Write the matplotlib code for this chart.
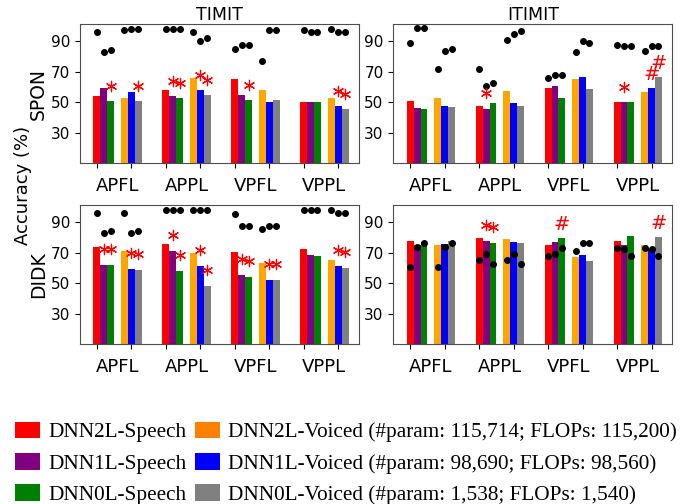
import matplotlib
matplotlib.use("Agg")
import matplotlib.pyplot as plt
from matplotlib.patches import Patch
import numpy as np

groups = ["APFL", "APPL", "VPFL", "VPPL"]
bar_colors = ["red", "purple", "green", "orange", "blue", "gray"]
legend_colors = ["red", "purple", "green", "#ff8000", "blue", "gray"]
legend_labels = [
    "DNN2L-Speech", "DNN1L-Speech", "DNN0L-Speech",
    "DNN2L-Voiced (#param: 115,714; FLOPs: 115,200)",
    "DNN1L-Voiced (#param: 98,690; FLOPs: 98,560)",
    "DNN0L-Voiced (#param: 1,538; FLOPs: 1,540)",
]

# bars: one row per group, order = red, purple, green, orange, blue, gray
timit_spon = [[53.8, 59.0, 50.5, 52.4, 56.4, 50.5],
              [57.7, 53.8, 52.4, 65.5, 57.7, 54.4],
              [64.9, 54.4, 51.1, 57.7, 49.8, 51.1],
              [50.0, 50.0, 50.0, 52.4, 47.2, 45.2]]
timit_spon_dots = [[96.1, 83.0, 84.1, 97.0, 98.1, 98.1],
                   [98.1, 98.1, 98.1, 96.1, 90.0, 92.0],
                   [85.0, 87.2, 87.2, 77.1, 97.0, 97.0],
                   [97.0, 96.1, 96.1, 98.1, 96.1, 96.1]]
timit_spon_star = [(0, 2), (0, 5), (1, 1), (1, 2), (1, 4), (1, 5), (2, 2), (3, 4), (3, 5)]
timit_spon_hash = []

itimit_spon = [[50.9, 46.4, 45.7, 52.9, 47.7, 47.0],
               [47.7, 45.7, 49.6, 57.5, 49.6, 47.7],
               [59.5, 60.8, 52.9, 65.3, 66.7, 58.8],
               [50.0, 50.0, 50.0, 56.8, 59.5, 66.7]]
itimit_spon_dots = [[88.7, 98.7, 98.7, 71.5, 83.5, 84.5],
                    [71.5, 60.5, 62.5, 90.7, 94.6, 96.8],
                    [65.6, 67.5, 67.5, 82.6, 89.8, 88.7],
                    [87.6, 86.7, 86.7, 83.7, 86.7, 86.7]]
itimit_spon_star = [(1, 1), (3, 1)]
itimit_spon_hash = [(3, 4), (3, 5)]

timit_didk = [[73.9, 62.1, 62.1, 71.2, 59.5, 58.8],
              [75.8, 71.2, 58.2, 69.9, 61.4, 48.4],
              [70.6, 55.6, 54.2, 63.4, 52.3, 52.3],
              [72.6, 68.6, 68.0, 65.4, 61.4, 60.1]]
timit_didk_dots = [[96.1, 83.0, 83.9, 96.1, 83.0, 83.9],
                   [97.8, 97.8, 97.8, 97.8, 97.8, 97.8],
                   [95.0, 87.2, 87.2, 85.2, 87.2, 87.2],
                   [98.0, 98.0, 98.0, 98.0, 96.1, 96.1]]
timit_didk_star = [(0, 1), (0, 2), (0, 4), (0, 5), (1, 1), (1, 2), (1, 4), (1, 5),
                   (2, 1), (2, 2), (2, 4), (2, 5), (3, 4), (3, 5)]
timit_didk_hash = []

itimit_didk = [[77.8, 75.2, 76.9, 75.2, 75.8, 77.8],
               [79.8, 77.8, 76.5, 79.1, 77.1, 76.5],
               [75.2, 77.1, 79.8, 67.3, 68.6, 64.7],
               [77.8, 75.2, 81.1, 75.2, 72.6, 80.4]]
itimit_didk_dots = [[60.8, 73.9, 76.1, 60.8, 73.9, 76.1],
                    [64.9, 69.3, 62.7, 64.9, 69.3, 62.7],
                    [68.0, 69.1, 73.2, 70.8, 76.1, 76.1],
                    [73.0, 72.1, 68.0, 73.0, 72.1, 68.0]]
itimit_didk_star = [(1, 1), (1, 2)]
itimit_didk_hash = [(2, 2), (3, 5)]

offsets = np.array([0.0, 0.1, 0.2, 0.4, 0.5, 0.6])
width = 0.1

fig = plt.figure(figsize=(6.99, 5.04), dpi=100)
w = 0.399
h = 0.276
positions = [[0.1144, 0.676, w, h], [0.5627, 0.676, w, h],
             [0.1144, 0.3169, w, h], [0.5627, 0.3169, w, h]]
panels = [
    (timit_spon, timit_spon_dots, timit_spon_star, timit_spon_hash),
    (itimit_spon, itimit_spon_dots, itimit_spon_star, itimit_spon_hash),
    (timit_didk, timit_didk_dots, timit_didk_star, timit_didk_hash),
    (itimit_didk, itimit_didk_dots, itimit_didk_star, itimit_didk_hash),
]

axes = []
for pos, (bars, dots, stars, hashes) in zip(positions, panels):
    ax = fig.add_axes(pos)
    axes.append(ax)
    bars = np.array(bars)
    dots = np.array(dots)
    for g in range(len(groups)):
        xs = g + offsets
        ax.bar(xs, bars[g], width=width, color=bar_colors, zorder=2)
        ax.scatter(xs, dots[g], s=16, color="black", zorder=3)
    for g, i in stars:
        ax.scatter(g + offsets[i], bars[g][i] + 10, marker=(6, 2, 0), s=55,
                   color="red", linewidths=0.9, zorder=4)
    for g, i in hashes:
        ax.text(g + offsets[i], bars[g][i] + 8.5, "#", color="red", fontsize=14,
                ha="center", va="center", zorder=4)
    ax.set_xlim(-0.245, 3.8)
    ax.set_ylim(10, 101)
    ax.set_yticks([30, 50, 70, 90])
    ax.tick_params(axis="y", labelsize=11)
    major = [g + o for g in range(len(groups)) for o in (0.0, 0.5)]
    ax.set_xticks(major)
    ax.set_xticklabels([])
    ax.set_xticks([g + 0.3 for g in range(len(groups))], minor=True)
    ax.set_xticklabels(groups, minor=True, fontsize=13)
    ax.tick_params(axis="x", which="minor", length=0, pad=10)
    for sp in ax.spines.values():
        sp.set_color("0.3")

axes[0].set_title("TIMIT", fontsize=12.5, pad=3)
axes[1].set_title("ITIMIT", fontsize=12.5, pad=3)
axes[0].set_ylabel("SPON", fontsize=13.5, labelpad=2)
axes[2].set_ylabel("DIDK", fontsize=13.5, labelpad=2)
fig.text(0.033, 0.633, "Accuracy (%)", rotation=90, fontsize=13,
         ha="center", va="center")

handles = [Patch(facecolor=c) for c in legend_colors]
fig.legend(handles, legend_labels, loc="lower left", bbox_to_anchor=(0.0, -0.032),
           ncol=2, frameon=False,
           prop={"family": "Liberation Serif", "size": 15.3},
           handlelength=1.2, handleheight=0.85, handletextpad=0.38,
           columnspacing=0.38, labelspacing=0.5, borderpad=0.2)

fig.savefig("out.png", dpi=100)
